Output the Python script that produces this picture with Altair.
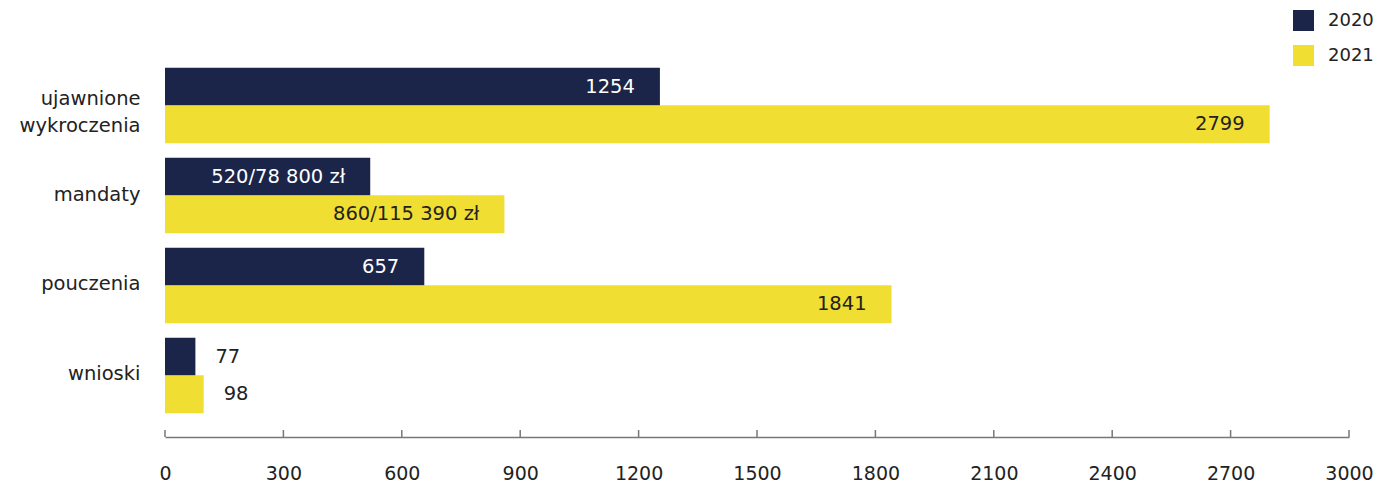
import altair as alt
import pandas as pd

categories = ["ujawnione wykroczenia", "mandaty", "pouczenia", "wnioski"]
years = ["2020", "2021"]
values_2020 = [1254, 520, 657, 77]
values_2021 = [2799, 860, 1841, 98]
labels_2020 = ["1254", "520/78 800 zł", "657", "77"]
labels_2021 = ["2799", "860/115 390 zł", "1841", "98"]
tick_values = [0, 300, 600, 900, 1200, 1500, 1800, 2100, 2400, 2700, 3000]

rows = []
for c, v, l in zip(categories, values_2020, labels_2020):
    rows.append({"cat": c, "year": "2020", "value": v, "label": l})
for c, v, l in zip(categories, values_2021, labels_2021):
    rows.append({"cat": c, "year": "2021", "value": v, "label": l})
df = pd.DataFrame(rows)
df["inside"] = df["value"] > 300
df["tcolor"] = ["#ffffff" if (y == "2020" and ins) else "#222222"
                for y, ins in zip(df["year"], df["inside"])]

ticks = pd.DataFrame({"t": tick_values})

FONT = "DejaVu Sans"
W, H = 1184, 393

x_enc = alt.X("value:Q", scale=alt.Scale(domain=[0, 3000], nice=False, zero=True),
              axis=alt.Axis(values=tick_values, format="d", ticks=False, grid=False, title=None,
                            domainColor="#777777", domainWidth=1.5,
                            labelPadding=27, labelFontSize=19, labelColor="#222222",
                            labelFont=FONT, labelFlush=False))
y_enc = alt.Y("cat:N", sort=categories,
              scale=alt.Scale(paddingInner=0.1667, paddingOuter=0.2667),
              axis=alt.Axis(title=None, ticks=False, domain=False, labelPadding=25,
                            labelFontSize=19.5, labelColor="#222222", labelFont=FONT,
                            labelExpr="split(datum.label, ' ')", labelLineHeight=27,
                            labelOffset={"condition": {"test": "indexof(datum.label, ' ') >= 0",
                                                       "value": -7},
                                         "value": -1}))
yoff = alt.YOffset("year:N", sort=years, scale=alt.Scale(paddingInner=0, paddingOuter=0))

base = alt.Chart(df)

bars = base.mark_bar(size=38).encode(
    x=x_enc,
    y=y_enc,
    yOffset=yoff,
    color=alt.Color("year:N", sort=years,
                    scale=alt.Scale(domain=years, range=["#1b2549", "#f0de33"]),
                    legend=alt.Legend(title=None, orient="none", legendX=1128, legendY=-34,
                                      symbolType="square", symbolSize=441,
                                      symbolStrokeWidth=0, labelFontSize=18,
                                      labelFont=FONT, labelColor="#222222",
                                      rowPadding=14, labelOffset=14)),
)

text_in = base.transform_filter("datum.inside").mark_text(
    align="right", dx=-25, fontSize=19.5, font=FONT, baseline="middle"
).encode(
    x="value:Q", y=alt.Y("cat:N", sort=categories), yOffset=yoff,
    text="label:N", color=alt.Color("tcolor:N", scale=None),
)

text_out = base.transform_filter("!datum.inside").mark_text(
    align="left", dx=20, fontSize=19.5, font=FONT, baseline="middle"
).encode(
    x="value:Q", y=alt.Y("cat:N", sort=categories), yOffset=yoff,
    text="label:N", color=alt.Color("tcolor:N", scale=None),
)

tick_marks = alt.Chart(ticks).mark_rule(color="#777777", strokeWidth=1.5).encode(
    x="t:Q", y=alt.value(H - 7), y2=alt.value(H),
)

chart = alt.layer(bars, tick_marks, text_in, text_out).properties(
    width=W, height=H,
    autosize=alt.AutoSizeParams(type="none"),
    padding={"left": 157, "top": 36, "right": 24, "bottom": 45},
).configure(font=FONT).configure_view(strokeWidth=0, stroke="transparent")

chart.save("out.html", embed_options={"renderer": "svg", "actions": False})
